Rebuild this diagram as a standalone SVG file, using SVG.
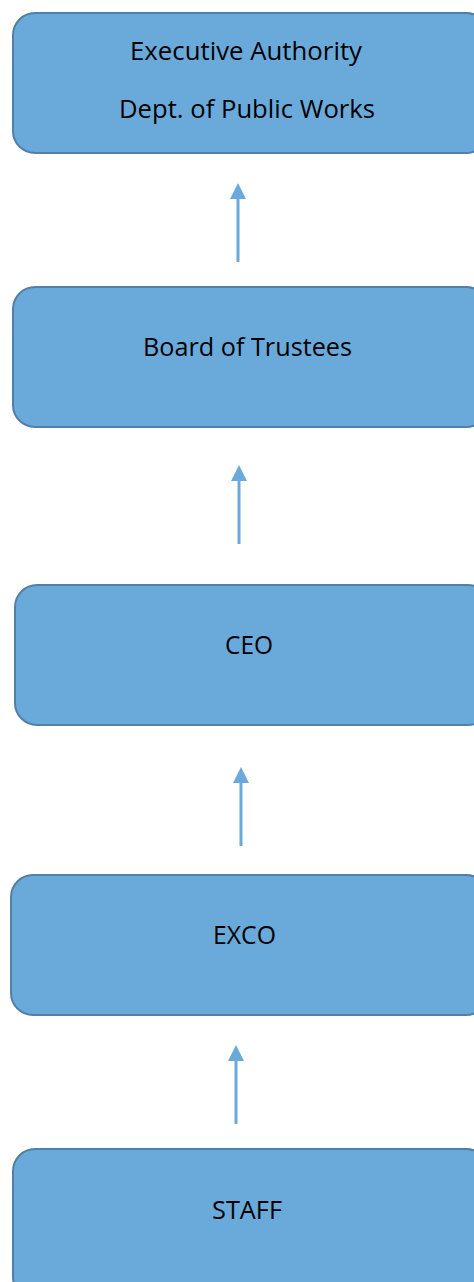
<svg xmlns="http://www.w3.org/2000/svg" width="474" height="1282" viewBox="0 0 474 1282">
<style>
.box{fill:#6aaadb;stroke:#527fa8;stroke-width:2}
.lbl{font-family:"Open Sans","Liberation Sans",sans-serif;font-size:25px;fill:#000;text-anchor:middle}
.conn{stroke:#6aaadb;stroke-width:3;fill:none}
.head{fill:#6aaadb}
</style>
<rect width="474" height="1282" fill="#fff"/>
<g id="node-exec"><rect class="box" x="13" y="13" width="475" height="140" rx="22"/>
<text class="lbl" x="246" y="60" textLength="232" lengthAdjust="spacingAndGlyphs">Executive Authority</text>
<text class="lbl" x="247" y="118" textLength="256" lengthAdjust="spacingAndGlyphs">Dept. of Public Works</text></g>
<g id="node-board"><rect class="box" x="13" y="287" width="475" height="140" rx="22"/>
<text class="lbl" x="247.5" y="356" textLength="209" lengthAdjust="spacingAndGlyphs">Board of Trustees</text></g>
<g id="node-ceo"><rect class="box" x="15" y="585" width="475" height="140" rx="22"/>
<text class="lbl" x="249" y="654" textLength="48" lengthAdjust="spacingAndGlyphs">CEO</text></g>
<g id="node-exco"><rect class="box" x="11" y="875" width="477" height="140" rx="22"/>
<text class="lbl" x="244.5" y="944" textLength="63" lengthAdjust="spacingAndGlyphs">EXCO</text></g>
<g id="node-staff"><rect class="box" x="13" y="1149" width="475" height="150" rx="22"/>
<text class="lbl" x="247" y="1219" textLength="70" lengthAdjust="spacingAndGlyphs">STAFF</text></g>
<g id="connectors">
<line class="conn" x1="238" y1="262" x2="238" y2="197"/><polygon class="head" points="238,183 230,199 246,199"/>
<line class="conn" x1="239" y1="544" x2="239" y2="479"/><polygon class="head" points="239,465 231,481 247,481"/>
<line class="conn" x1="241" y1="846" x2="241" y2="781"/><polygon class="head" points="241,767 233,783 249,783"/>
<line class="conn" x1="236" y1="1124" x2="236" y2="1059"/><polygon class="head" points="236,1045 228,1061 244,1061"/>
</g>
</svg>
